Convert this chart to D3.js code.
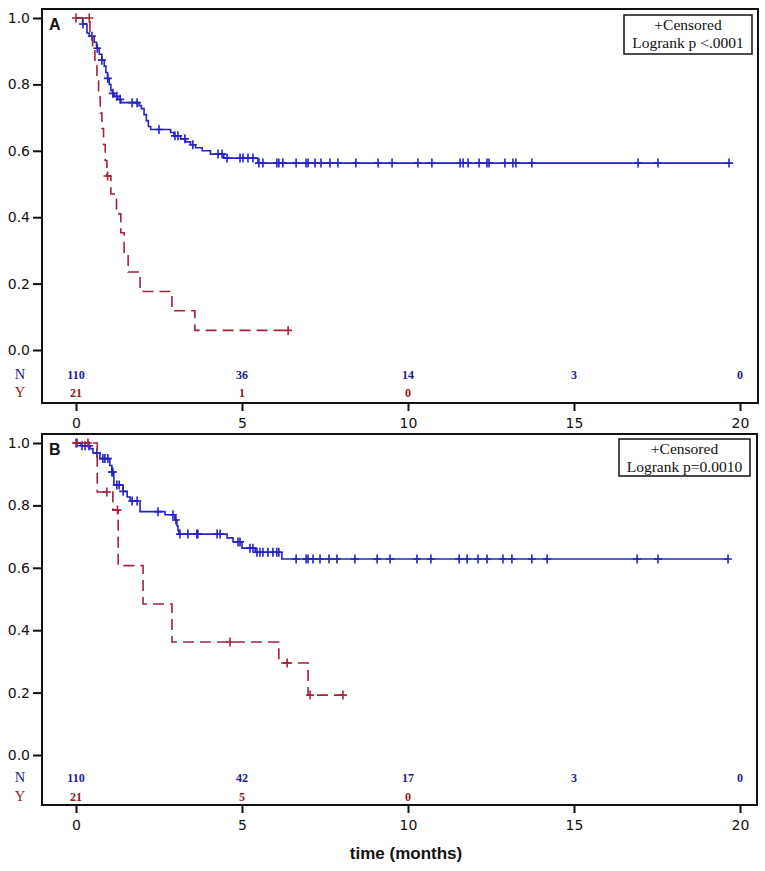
<!DOCTYPE html>
<html>
<head>
<meta charset="utf-8">
<script src="https://cdn.jsdelivr.net/npm/d3@7"></script>
<style>
  html, body { margin: 0; padding: 0; background: #fff; }
  svg { display: block; }
</style>
</head>
<body>
<svg id="chart" width="765" height="871"></svg>
<script>
// ---------------- DATA ----------------
const timeTicks = [0, 5, 10, 15, 20];
const survTicks = [0.0, 0.2, 0.4, 0.6, 0.8, 1.0];

// Panel A — group N (blue): [time, survival after event]
const aNSteps = [[0,1.0],[0.20,0.982],[0.33,0.955],[0.40,0.945],[0.55,0.927],[0.62,0.909],[0.70,0.891],[0.78,0.873],
  [0.85,0.855],[0.90,0.836],[0.95,0.818],[1.00,0.80],[1.05,0.782],[1.10,0.773],[1.15,0.764],[1.25,0.755],[1.35,0.745],
  [1.90,0.736],[1.97,0.727],[2.05,0.709],[2.12,0.691],[2.18,0.673],[2.25,0.664],[2.85,0.655],[2.95,0.645],[3.15,0.636],
  [3.30,0.627],[3.45,0.618],[3.60,0.609],[3.80,0.60],[4.05,0.59],[4.45,0.578],[5.48,0.563]];
const aNEnd = 19.67;
const aNCensor = [0.21,0.48,0.64,0.78,0.96,1.11,1.23,1.33,1.69,1.84,2.50,2.98,3.07,3.28,3.52,4.28,4.40,4.55,4.94,5.03,
  5.18,5.33,5.51,5.63,6.05,6.11,6.23,6.63,6.93,6.99,7.20,7.38,7.65,7.89,8.43,9.10,9.52,10.30,10.72,11.57,11.66,11.81,
  12.14,12.38,12.44,12.92,13.16,13.25,13.73,16.93,17.53,19.67];

// Panel A — group Y (red)
const aYSteps = [[0,1.0],[0.42,0.952],[0.50,0.905],[0.57,0.857],[0.63,0.81],[0.68,0.762],[0.73,0.714],[0.78,0.667],
  [0.83,0.619],[0.88,0.571],[0.93,0.524],[1.05,0.47],[1.22,0.41],[1.35,0.353],[1.45,0.294],[1.57,0.235],[1.93,0.176],
  [2.89,0.118],[3.58,0.059]];
const aYEnd = 6.39;
const aYCensor = [0, 0.40, 0.95, 6.39];

// Panel B — group N (blue)
const bNSteps = [[0,1.0],[0.15,0.991],[0.42,0.982],[0.51,0.968],[0.72,0.95],[1.02,0.928],[1.08,0.907],[1.14,0.865],
  [1.42,0.845],[1.54,0.827],[1.63,0.814],[1.93,0.78],[2.68,0.77],[2.98,0.753],[3.04,0.735],[3.07,0.72],[3.10,0.708],
  [4.55,0.696],[4.73,0.683],[5.00,0.663],[5.40,0.65],[6.20,0.628]];
const bNEnd = 19.64;
const bNCensor = [0.03,0.18,0.27,0.39,0.63,0.81,0.87,0.96,1.08,1.11,1.23,1.30,1.42,1.69,1.84,2.47,2.92,3.01,3.13,3.37,
  3.64,3.67,4.25,4.34,4.88,4.94,5.24,5.33,5.45,5.54,5.63,5.78,5.93,6.05,6.11,6.63,6.93,6.99,7.14,7.35,7.62,7.86,8.40,
  9.07,9.46,10.27,10.69,11.54,11.78,12.11,12.38,12.86,13.13,13.73,14.19,16.90,17.53,19.64];

// Panel B — group Y (red)
const bYSteps = [[0,1.0],[0.64,0.843],[1.11,0.785],[1.27,0.607],[2.02,0.484],[2.89,0.362],[6.11,0.295],[6.99,0.192]];
const bYEnd = 8.04;
const bYCensor = [0, 0.36, 0.93, 1.25, 4.64, 6.36, 7.05, 8.04];

// Numbers at risk
const riskGroups = ["N", "Y"];
const aRiskN = [110, 36, 14, 3, 0];
const aRiskY = [21, 1, 0];
const bRiskN = [110, 42, 17, 3, 0];
const bRiskY = [21, 5, 0];

const panelLetters = ["A", "B"];
const legendTitle = "+Censored";
const aLogrank = "Logrank p <.0001";
const bLogrank = "Logrank p=0.0010";
const xTitle = "time (months)";

// ---------------- LAYOUT / STYLE ----------------
const blue = "#2323c8";
const red = "#a3223a";
const navy = "#1c1c8a";
const maroon = "#8a1a22";
const sansFont = "'DejaVu Sans', sans-serif";
const serifFont = "'Liberation Serif', 'DejaVu Serif', serif";

const svg = d3.select("#chart");
const x = d3.scaleLinear().domain([0, 20]).range([76, 740]);

const panels = [
  { left: 42, right: 758, top: 9, bottom: 403, yTop: 18, yBot: 350, rowN: 379, rowY: 397,
    letter: panelLetters[0], logrank: aLogrank, legend: {x: 624, y: 15, w: 128, h: 39},
    curves: [ {steps: aNSteps, end: aNEnd, censor: aNCensor, color: blue, dash: null},
              {steps: aYSteps, end: aYEnd, censor: aYCensor, color: red, dash: "11,6"} ],
    riskN: aRiskN, riskY: aRiskY },
  { left: 42, right: 757, top: 434, bottom: 805, yTop: 443, yBot: 755, rowN: 782, rowY: 801,
    letter: panelLetters[1], logrank: bLogrank, legend: {x: 619, y: 439, w: 131, h: 37},
    curves: [ {steps: bNSteps, end: bNEnd, censor: bNCensor, color: blue, dash: null},
              {steps: bYSteps, end: bYEnd, censor: bYCensor, color: red, dash: "11,6"} ],
    riskN: bRiskN, riskY: bRiskY }
];

function survAt(steps, t) {
  let s = steps[0][1];
  for (const st of steps) { if (st[0] <= t + 1e-9) s = st[1]; }
  return s;
}

panels.forEach(p => {
  const g = svg.append("g");
  const y = d3.scaleLinear().domain([0, 1]).range([p.yBot, p.yTop]);

  // curves
  p.curves.forEach(c => {
    const pts = c.steps.concat([[c.end, c.steps[c.steps.length - 1][1]]]);
    const line = d3.line().x(d => x(d[0])).y(d => y(d[1])).curve(d3.curveStepAfter);
    g.append("path").attr("d", line(pts))
      .attr("fill", "none").attr("stroke", c.color).attr("stroke-width", 1.6)
      .attr("stroke-dasharray", c.dash);
    const cg = g.append("g");
    c.censor.forEach(t => {
      const cx = x(t), cy = y(survAt(c.steps, t));
      cg.append("path").attr("d", `M${cx - 4},${cy}H${cx + 4}M${cx},${cy - 4.5}V${cy + 4.5}`)
        .attr("stroke", c.color).attr("stroke-width", 1.6).attr("fill", "none");
    });
  });

  // frame
  g.append("rect").attr("x", p.left).attr("y", p.top)
    .attr("width", p.right - p.left).attr("height", p.bottom - p.top)
    .attr("fill", "none").attr("stroke", "#111").attr("stroke-width", 2);

  // y axis
  const ya = g.append("g").attr("transform", `translate(${p.left},0)`)
    .call(d3.axisLeft(y).tickValues(survTicks).tickFormat(d3.format(".1f")).tickSize(9).tickPadding(3));
  ya.select(".domain").remove();
  ya.selectAll("line").attr("stroke", "#111").attr("stroke-width", 2);
  ya.selectAll("text").attr("font-family", sansFont).attr("font-size", 14).attr("fill", "#111");

  // x axis
  const xa = g.append("g").attr("transform", `translate(0,${p.bottom})`)
    .call(d3.axisBottom(x).tickValues(timeTicks).tickFormat(d3.format("d")).tickSize(8).tickPadding(7));
  xa.select(".domain").remove();
  xa.selectAll("line").attr("stroke", "#111").attr("stroke-width", 2);
  xa.selectAll("text").attr("font-family", sansFont).attr("font-size", 14).attr("fill", "#111");

  // panel letter
  g.append("text").attr("x", 49).attr("y", p.top + 21).text(p.letter)
    .attr("font-family", "'Liberation Sans', Arial, sans-serif").attr("font-weight", "bold")
    .attr("font-size", 16).attr("fill", "#111");

  // legend
  const L = p.legend;
  g.append("rect").attr("x", L.x).attr("y", L.y).attr("width", L.w).attr("height", L.h)
    .attr("fill", "#fff").attr("stroke", "#111").attr("stroke-width", 1.5);
  g.append("text").attr("x", L.x + L.w / 2).attr("y", L.y + 15).attr("text-anchor", "middle")
    .attr("font-family", serifFont).attr("font-size", 15.5).attr("fill", "#111").text(legendTitle);
  g.append("text").attr("x", L.x + L.w / 2).attr("y", L.y + 33).attr("text-anchor", "middle")
    .attr("font-family", serifFont).attr("font-size", 15.5).attr("fill", "#111").text(p.logrank);

  // numbers at risk
  g.append("text").attr("x", 20).attr("y", p.rowN).attr("text-anchor", "middle")
    .attr("font-family", serifFont).attr("font-size", 14.5).attr("fill", navy).text(riskGroups[0]);
  g.append("text").attr("x", 20).attr("y", p.rowY).attr("text-anchor", "middle")
    .attr("font-family", serifFont).attr("font-size", 14.5).attr("fill", maroon).text(riskGroups[1]);
  p.riskN.forEach((v, i) => {
    g.append("text").attr("x", x(timeTicks[i])).attr("y", p.rowN).attr("text-anchor", "middle")
      .attr("font-family", serifFont).attr("font-weight", "bold").attr("font-size", 12)
      .attr("fill", navy).text(v);
  });
  p.riskY.forEach((v, i) => {
    g.append("text").attr("x", x(timeTicks[i])).attr("y", p.rowY).attr("text-anchor", "middle")
      .attr("font-family", serifFont).attr("font-weight", "bold").attr("font-size", 12)
      .attr("fill", maroon).text(v);
  });
});

// x title
svg.append("text").attr("x", 406).attr("y", 859).attr("text-anchor", "middle")
  .attr("font-family", "'Liberation Sans', Arial, sans-serif").attr("font-weight", "bold")
  .attr("font-size", 17).attr("fill", "#111").text(xTitle);
</script>
</body>
</html>
